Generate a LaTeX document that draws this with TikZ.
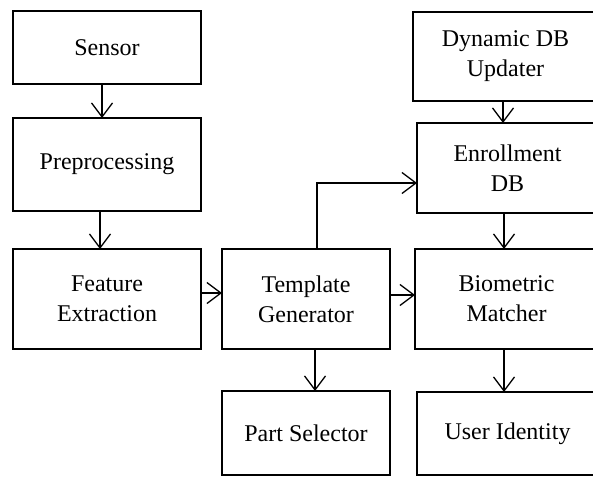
\documentclass[tikz,border=0pt]{standalone}
\usepackage{fontspec}
\setmainfont{Liberation Serif}
\usetikzlibrary{arrows.meta}
\tikzset{
  blk/.style={draw=black, line width=1.3pt, rectangle, inner sep=0pt, outer sep=0pt,
    align=center, font=\fontsize{24}{30}\selectfont},
  arr/.style={draw=black, line width=1.3pt, -{Straight Barb[length=14pt,width=21pt,line width=1.3pt]}},
  ln/.style={draw=black, line width=1.3pt}
}
\begin{document}
\begin{tikzpicture}[x=1pt,y=-1pt]
\useasboundingbox (0,0) rectangle (593,476);
\clip (0,0) rectangle (593,476);
\node[blk, minimum width=188pt, minimum height=73pt] (sensor) at (107,47.5) {Sensor};
\node[blk, minimum width=188pt, minimum height=93pt] (pre) at (107,164.5) {Preprocessing};
\node[blk, minimum width=188pt, minimum height=100pt] (feat) at (107,299) {Feature\\Extraction};
\node[blk, minimum width=168pt, minimum height=100pt] (tmpl) at (306,299) {Template\\Generator};
\node[blk, minimum width=168pt, minimum height=84pt] (part) at (306,433) {Part Selector};
\node[blk, minimum width=185pt, minimum height=89pt] (dyn) at (505.5,56.5) {Dynamic DB\\Updater};
\node[blk, minimum width=181pt, minimum height=90pt] (enr) at (507.5,168) {Enrollment\\DB};
\node[blk, minimum width=183pt, minimum height=100pt] (bio) at (506.5,299) {Biometric\\Matcher};
\node[blk, minimum width=181pt, minimum height=83pt] (user) at (507.5,433.5) {User Identity};
\coordinate (turn) at (317,183);
\draw[arr] (sensor.south -| 102,0) -- (pre.north -| 102,0);
\draw[arr] (pre.south -| 100,0) -- (feat.north -| 100,0);
\draw[arr] (feat.east |- 0,293) -- (tmpl.west |- 0,293);
\draw[arr] (tmpl.east |- 0,295) -- (bio.west |- 0,295);
\draw[arr] (tmpl.south -| 315,0) -- (part.north -| 315,0);
\draw[arr] (tmpl.north -| turn) -- (turn) -- (enr.west |- turn);
\draw[arr] (dyn.south -| 503,0) -- (enr.north -| 503,0);
\draw[arr] (enr.south -| 504,0) -- (bio.north -| 504,0);
\draw[arr] (bio.south -| 504,0) -- (user.north -| 504,0);
\end{tikzpicture}
\end{document}
